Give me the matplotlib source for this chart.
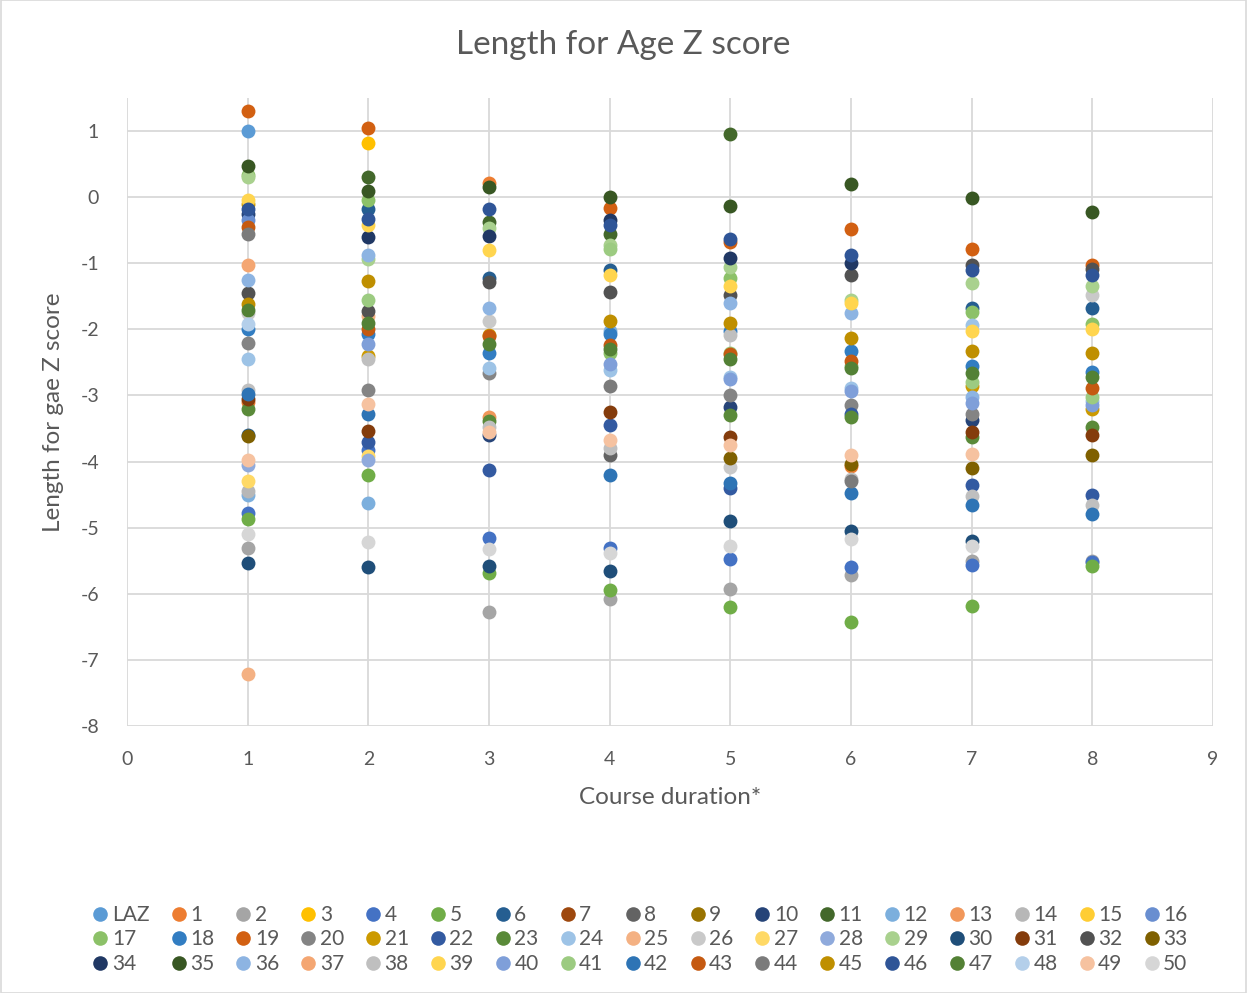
import matplotlib
matplotlib.use("Agg")
from matplotlib import pyplot as plt
from matplotlib.lines import Line2D
from matplotlib.patches import Rectangle

# series names (legend order) and their Office-style colours
labels = ["LAZ"] + [str(i) for i in range(1, 51)]
colors = [
    "#5B9BD5", "#ED7D31", "#A5A5A5", "#FFC000", "#4472C4", "#70AD47",
    "#255E91", "#9E480E", "#636363", "#997300", "#264478", "#43682B",
    "#7CAFDD", "#F1975A", "#B7B7B7", "#FFCD33", "#698ED0", "#8CC168",
    "#327DC2", "#D26012", "#848484", "#CC9A00", "#335AA1", "#5A8A39",
    "#9DC3E6", "#F4B183", "#C9C9C9", "#FFD966", "#8FAADC", "#A9D18E",
    "#1F4E79", "#843C0C", "#525252", "#7F6000", "#203864", "#385723",
    "#8DB4E2", "#F4A672", "#BFBFBF", "#FFD54F", "#7F9FD9", "#9CCB81",
    "#2E74B5", "#C55A11", "#7B7B7B", "#BF8F00", "#2F5597", "#538135",
    "#B4CFEA", "#F6C2A0", "#D6D6D6",
]

# Length-for-age Z score by course duration, keyed by series name
duration_1 = {
    "19": 1.30, "LAZ": 1.00, "35": 0.47, "17": 0.33, "29": 0.30, "39": -0.05,
    "21": -0.10, "46": -0.18, "10": -0.25, "16": -0.35, "43": -0.45,
    "44": -0.55, "37": -1.02, "36": -1.25, "32": -1.45, "45": -1.62,
    "47": -1.70, "26": -1.75, "48": -1.92, "18": -2.00, "20": -2.20,
    "24": -2.45, "38": -2.92, "42": -2.98, "31": -3.05, "1": -3.10,
    "23": -3.20, "6": -3.60, "33": -3.62, "49": -3.97, "28": -4.05,
    "27": -4.30, "14": -4.45, "12": -4.50, "4": -4.78, "5": -4.87,
    "50": -5.10, "2": -5.30, "30": -5.53, "25": -7.22,
}
duration_2 = {
    "19": 1.05, "3": 0.82, "11": 0.30, "35": 0.10, "17": -0.05, "6": -0.18,
    "46": -0.33, "39": -0.42, "34": -0.60, "36": -0.87, "29": -0.93,
    "45": -1.27, "41": -1.55, "32": -1.72, "25": -1.80, "47": -1.90,
    "43": -2.00, "18": -2.07, "40": -2.22, "21": -2.40, "38": -2.45,
    "20": -2.92, "49": -3.13, "42": -3.28, "31": -3.53, "22": -3.70,
    "4": -3.82, "27": -3.92, "28": -3.98, "5": -4.20, "12": -4.62,
    "50": -5.22, "30": -5.60,
}
duration_3 = {
    "1": 0.22, "35": 0.15, "46": -0.18, "11": -0.37, "29": -0.47,
    "34": -0.58, "39": -0.80, "6": -1.23, "32": -1.28, "36": -1.67,
    "26": -1.88, "21": -2.08, "43": -2.10, "47": -2.22, "18": -2.35,
    "24": -2.58, "20": -2.66, "13": -3.33, "23": -3.38, "38": -3.47,
    "49": -3.55, "10": -3.60, "22": -4.13, "4": -5.15, "50": -5.32,
    "30": -5.58, "5": -5.68, "2": -6.27,
}
duration_4 = {
    "35": 0.00, "19": -0.17, "34": -0.35, "46": -0.42, "11": -0.55,
    "29": -0.72, "41": -0.78, "6": -1.10, "39": -1.18, "32": -1.43,
    "45": -1.88, "12": -2.02, "18": -2.07, "43": -2.23, "47": -2.30,
    "17": -2.35, "40": -2.52, "24": -2.62, "44": -2.85, "31": -3.25,
    "22": -3.44, "49": -3.68, "38": -3.80, "8": -3.90, "42": -4.20,
    "4": -5.30, "50": -5.38, "30": -5.65, "5": -5.95, "2": -6.08,
}
duration_5 = {
    "11": 0.95, "35": -0.13, "46": -0.63, "19": -0.68, "34": -0.92,
    "29": -1.05, "17": -1.22, "39": -1.35, "32": -1.48, "36": -1.60,
    "45": -1.90, "18": -2.03, "38": -2.08, "41": -2.35, "43": -2.38,
    "47": -2.45, "24": -2.72, "40": -2.75, "20": -3.00, "10": -3.18,
    "23": -3.30, "31": -3.63, "49": -3.75, "33": -3.95, "26": -4.08,
    "42": -4.33, "22": -4.40, "30": -4.90, "50": -5.28, "4": -5.48,
    "2": -5.93, "5": -6.20,
}
duration_6 = {
    "35": 0.20, "19": -0.48, "46": -0.87, "34": -1.00, "32": -1.18,
    "29": -1.55, "39": -1.60, "36": -1.75, "45": -2.13, "18": -2.32,
    "43": -2.48, "41": -2.55, "47": -2.58, "24": -2.88, "40": -2.93,
    "20": -3.15, "22": -3.28, "23": -3.33, "49": -3.90, "33": -4.03,
    "1": -4.07, "38": -4.27, "44": -4.30, "42": -4.47, "30": -5.05,
    "50": -5.17, "4": -5.60, "2": -5.72, "5": -6.42,
}
duration_7 = {
    "35": -0.02, "19": -0.78, "32": -1.02, "46": -1.10, "29": -1.30,
    "6": -1.68, "17": -1.73, "24": -1.93, "39": -2.02, "45": -2.33,
    "18": -2.55, "47": -2.66, "41": -2.80, "21": -2.85, "36": -3.03,
    "40": -3.12, "20": -3.28, "10": -3.37, "31": -3.55, "23": -3.63,
    "49": -3.88, "33": -4.10, "22": -4.35, "38": -4.52, "42": -4.65,
    "30": -5.20, "50": -5.28, "2": -5.50, "4": -5.57, "5": -6.18,
}
duration_8 = {
    "35": -0.22, "19": -1.02, "32": -1.08, "46": -1.18, "29": -1.35,
    "26": -1.48, "6": -1.68, "17": -1.92, "39": -2.00, "45": -2.35,
    "18": -2.65, "47": -2.72, "43": -2.88, "41": -3.02, "24": -3.08,
    "40": -3.15, "21": -3.20, "23": -3.47, "31": -3.60, "33": -3.90,
    "22": -4.50, "38": -4.65, "42": -4.80, "2": -5.50, "4": -5.52,
    "5": -5.58,
}
durations = [1, 2, 3, 4, 5, 6, 7, 8]
by_duration = [duration_1, duration_2, duration_3, duration_4,
               duration_5, duration_6, duration_7, duration_8]

TEXT = "#595959"
GRID = "#D9D9D9"
plt.rcParams["font.family"] = ["Lato", "DejaVu Sans"]
plt.rcParams["axes.unicode_minus"] = False

figure = plt.figure(figsize=(12.47, 9.93), dpi=100)
axis = figure.add_axes([0.1018, 0.2689, 0.8709, 0.6324])

for label, color in zip(labels, colors):
    xs = [d for d, table in zip(durations, by_duration) if label in table]
    ys = [table[label] for table in by_duration if label in table]
    axis.scatter(xs, ys, s=100, color=color, linewidths=0, label=label)

axis.set_xlim(0, 9)
axis.set_ylim(-8, 1.5)
axis.set_xticks(range(0, 10))
axis.set_yticks(range(-8, 2))
axis.grid(True, color=GRID, linewidth=1.3)
axis.set_axisbelow(True)
for spine in axis.spines.values():
    spine.set_visible(False)
axis.tick_params(length=0, labelsize=14, labelcolor=TEXT)
axis.tick_params(axis="x", pad=18)
axis.tick_params(axis="y", pad=20)
axis.set_xlabel("Course duration*", fontsize=17.5, color=TEXT, labelpad=14)
axis.set_ylabel("Length for gae Z score", fontsize=17.5, color=TEXT,
                labelpad=12)
figure.text(0.5, 0.955, "Length for Age Z score", ha="center", va="center",
            fontsize=24, color=TEXT)

# legend is filled row by row, 17 entries per row
ncols = 17
nrows = 3
handles = [Line2D([], [], marker="o", linestyle="", markersize=10.5,
                  markerfacecolor=c, markeredgewidth=0) for c in colors]
order = [r * ncols + c for c in range(ncols) for r in range(nrows)]
figure.legend(
    [handles[i] for i in order], [labels[i] for i in order],
    loc="center", bbox_to_anchor=(0.513, 0.054), ncol=ncols,
    frameon=False, fontsize=15, labelcolor=TEXT, handlelength=0.8,
    handletextpad=0.15, columnspacing=1.0, labelspacing=0.22,
    borderaxespad=0,
)

figure.patches.append(Rectangle((0.0005, 0.0005), 0.999, 0.999,
                                transform=figure.transFigure, fill=False,
                                edgecolor=GRID, linewidth=1.2))
figure.savefig("out.png", dpi=100)
